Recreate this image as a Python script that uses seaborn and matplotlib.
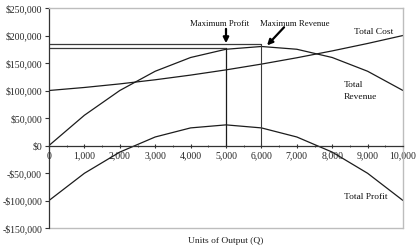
import matplotlib
matplotlib.use("Agg")
import matplotlib.pyplot as plt
from matplotlib.ticker import FuncFormatter, MultipleLocator
import seaborn as sns
import pandas as pd

# ---- data ----
output_q = [0, 1000, 2000, 3000, 4000, 5000, 6000, 7000, 8000, 9000, 10000]
total_revenue = [0, 55000, 100000, 135000, 160000, 175000, 180000, 175000, 160000, 135000, 100000]
total_cost = [100000, 105500, 112000, 119500, 128000, 137500, 148000, 159500, 172000, 185500, 200000]
total_profit = [-100000, -50500, -12000, 15500, 32000, 37500, 32000, 15500, -12000, -50500, -100000]

max_profit_q = 5000
max_revenue_q = 6000
max_profit_level = 178000
max_revenue_level = 184000

y_ticks = [-150000, -100000, -50000, 0, 50000, 100000, 150000, 200000, 250000]
x_ticks = [0, 1000, 2000, 3000, 4000, 5000, 6000, 7000, 8000, 9000, 10000]

df = pd.DataFrame({
    "Q": output_q * 3,
    "value": total_revenue + total_cost + total_profit,
    "series": ["Total Revenue"] * len(output_q) + ["Total Cost"] * len(output_q)
              + ["Total Profit"] * len(output_q),
})

sns.set_style("white")
plt.rcParams["font.family"] = ["Liberation Serif", "DejaVu Serif"]

fig = plt.figure(figsize=(4.2, 2.5), dpi=100)
ax = fig.add_axes([49 / 420, 1 - 228 / 250, (403 - 49) / 420, (228 - 8) / 250])

line_col = "#1c1c1c"
sns.lineplot(data=df, x="Q", y="value", hue="series",
             palette={"Total Revenue": line_col, "Total Cost": line_col, "Total Profit": line_col},
             linewidth=0.9, legend=False, ax=ax)

# guide lines for maxima
ax.plot([0, max_revenue_q], [max_revenue_level, max_revenue_level], color="#3a3a3a", lw=0.9)
ax.plot([0, max_profit_q], [max_profit_level, max_profit_level], color="#3a3a3a", lw=0.9)
ax.plot([max_profit_q, max_profit_q], [0, max_profit_level], color=line_col, lw=0.9)
ax.plot([max_revenue_q, max_revenue_q], [0, max_revenue_level], color="#3a3a3a", lw=0.8)

ax.set_xlim(x_ticks[0], x_ticks[-1])
ax.set_ylim(y_ticks[0], y_ticks[-1])
ax.set_xticks(x_ticks)
ax.xaxis.set_minor_locator(MultipleLocator(500))
ax.set_yticks(y_ticks)
ax.xaxis.set_major_formatter(FuncFormatter(lambda v, p: f"{int(v):,}"))
ax.yaxis.set_major_formatter(FuncFormatter(
    lambda v, p: ("-$" if v < 0 else "$") + f"{abs(int(v)):,}"))

# spines
frame_col = "#bdbdbd"
ax.spines["bottom"].set_position(("data", 0))
ax.spines["bottom"].set_color("#333333")
ax.spines["bottom"].set_linewidth(0.9)
ax.spines["left"].set_color("#333333")
ax.spines["left"].set_linewidth(0.9)
for s in ("top", "right"):
    ax.spines[s].set_color(frame_col)
    ax.spines[s].set_linewidth(1.0)
ax.plot([0, 1], [0, 0], transform=ax.transAxes, color=frame_col, lw=1.0, clip_on=False)

ax.tick_params(axis="y", which="major", direction="out", length=3, width=0.8,
               color="#333333", labelsize=7, pad=2, left=True)
ax.tick_params(axis="x", which="major", direction="inout", length=3, width=0.8,
               color="#333333", labelsize=7, pad=3, bottom=True)
ax.tick_params(axis="x", which="minor", direction="inout", length=2, width=0.6,
               color="#333333", bottom=True)

ax.set_xlabel("")
ax.set_ylabel("")
fig.text(226 / 420, 1 - 241 / 250, "Units of Output (Q)", ha="center", va="center",
         fontsize=6.8, color="#222222")

# annotations
ann_kw = dict(fontsize=6.8, color="#111111")
ax.text(4830, 221000, "Maximum Profit", ha="center", va="center", fontsize=6.3, color="#111111")
ax.text(6950, 221000, "Maximum Revenue", ha="center", va="center", fontsize=6.3, color="#111111")
ax.annotate("", xy=(max_profit_q, 186000), xytext=(max_profit_q, 212000),
            arrowprops=dict(arrowstyle="-|>", color="black", lw=1.6, mutation_scale=8,
                            shrinkA=0, shrinkB=0))
ax.annotate("", xy=(6160, 182000), xytext=(6640, 215000),
            arrowprops=dict(arrowstyle="-|>", color="black", lw=1.6, mutation_scale=8,
                            shrinkA=0, shrinkB=0))
ax.text(9180, 206000, "Total Cost", ha="center", va="center", **ann_kw)
ax.text(8330, 99000, "Total\nRevenue", ha="left", va="center", linespacing=1.55, **ann_kw)
ax.text(8330, -93000, "Total Profit", ha="left", va="center", **ann_kw)

fig.savefig("out.png", dpi=100)
